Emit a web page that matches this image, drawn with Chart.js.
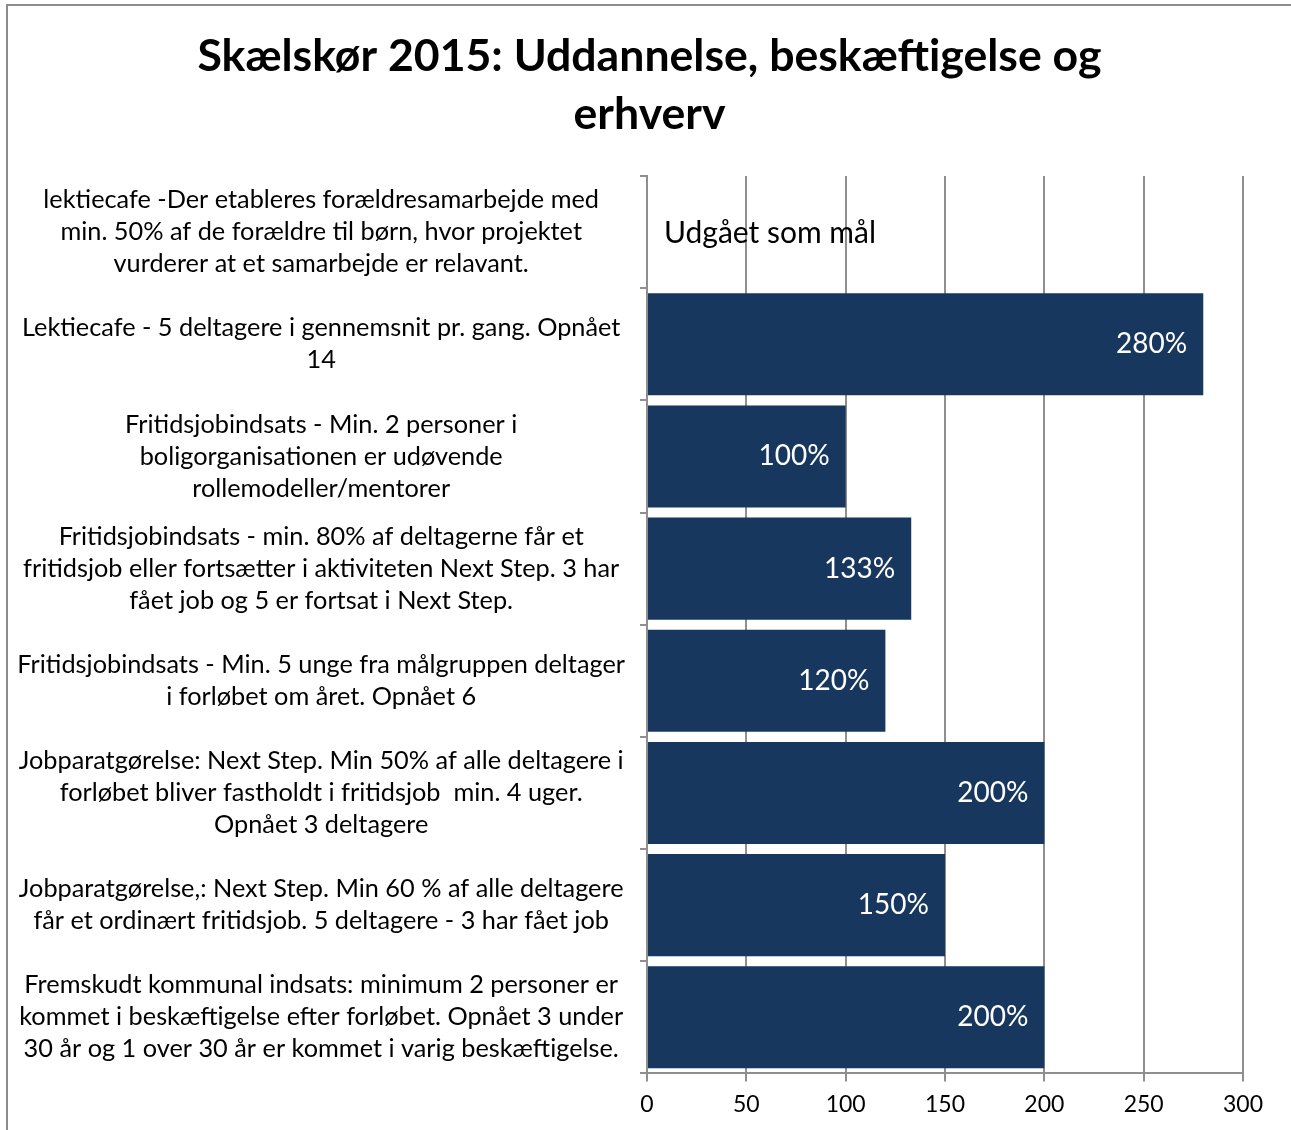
<!DOCTYPE html>
<html>
<head>
<meta charset="utf-8">
<script src="https://cdn.jsdelivr.net/npm/chart.js@4.4.0/dist/chart.umd.min.js"></script>
<style>
body { margin: 0; background: #fff; }
</style>
</head>
<body>
<canvas id="mycanvas" width="1291" height="1130"></canvas>
<script>
var titleLines = ['Skælskør 2015: Uddannelse, beskæftigelse og', 'erhverv'];

var labels = [
	['lektiecafe -Der etableres forældresamarbejde med', 'min. 50% af de forældre til børn, hvor projektet', 'vurderer at et samarbejde er relavant.'],
	['Lektiecafe - 5 deltagere i gennemsnit pr. gang. Opnået', '14'],
	['Fritidsjobindsats - Min. 2 personer i', 'boligorganisationen er udøvende', 'rollemodeller/mentorer'],
	['Fritidsjobindsats - min. 80% af deltagerne får et', 'fritidsjob eller fortsætter i aktiviteten Next Step. 3 har', 'fået job og 5 er fortsat i Next Step.'],
	['Fritidsjobindsats - Min. 5 unge fra målgruppen deltager', 'i forløbet om året. Opnået 6'],
	['Jobparatgørelse: Next Step. Min 50% af alle deltagere i', 'forløbet bliver fastholdt i fritidsjob  min. 4 uger.', 'Opnået 3 deltagere'],
	['Jobparatgørelse,: Next Step. Min 60 % af alle deltagere', 'får et ordinært fritidsjob. 5 deltagere - 3 har fået job'],
	['Fremskudt kommunal indsats: minimum 2 personer er', 'kommet i beskæftigelse efter forløbet. Opnået 3 under', '30 år og 1 over 30 år er kommet i varig beskæftigelse.']
];

// procent opnået, null = udgået
var values = [null, 280, 100, 133, 120, 200, 150, 200];
var droppedText = 'Udgået som mål';

var xMin = 0;
var xMax = 300;
var xStep = 50;

var gridColor = '#8f8f8f';
var barColor = '#17375E';

var frameAndLabels = {
	id: 'frameAndLabels',
	beforeDraw: function(chart) {
		var c = chart.ctx;
		c.save();
		c.strokeStyle = '#8c8c8c';
		c.lineWidth = 2;
		c.strokeRect(7, 5, 1400, 1400);
		c.restore();
	},
	afterDatasetsDraw: function(chart) {
		var c = chart.ctx;
		var meta = chart.getDatasetMeta(0);
		var yScale = chart.scales.y;
		c.save();
		c.textBaseline = 'middle';
		for (var i = 0; i < values.length; i++) {
			var y = yScale.getPixelForValue(i);
			if (values[i] === null) {
				c.font = '30px Lato';
				c.fillStyle = '#000';
				c.textAlign = 'left';
				c.fillText(droppedText, chart.chartArea.left + 17, y + 1);
			} else {
				var bar = meta.data[i];
				c.font = '28px Lato';
				c.fillStyle = '#fff';
				c.textAlign = 'right';
				c.fillText(values[i] + '%', bar.x - 16, y);
			}
		}
		c.restore();
	}
};

var ctx = document.getElementById('mycanvas');

var barGraph = new Chart(ctx, {
	type: 'bar',
	data: {
		labels: labels,
		datasets: [{
			data: values,
			backgroundColor: barColor,
			borderWidth: 0,
			categoryPercentage: 0.91,
			barPercentage: 1
		}]
	},
	options: {
		indexAxis: 'y',
		responsive: false,
		animation: false,
		layout: { padding: { left: 8, top: 28, right: 0, bottom: 3 } },
		plugins: {
			legend: { display: false },
			tooltip: { enabled: false },
			title: {
				display: true,
				text: titleLines,
				color: '#000',
				font: { family: 'Lato', size: 44.6, weight: 'bold', lineHeight: 58 / 44.6 },
				padding: { top: 0, bottom: 32 }
			}
		},
		scales: {
			x: {
				min: xMin,
				max: xMax,
				ticks: { stepSize: xStep, color: '#000', font: { family: 'Lato', size: 23 }, padding: 9 },
				grid: { color: gridColor, lineWidth: 2, tickLength: 8 },
				border: { display: true, color: gridColor, width: 2 },
				afterFit: function(s) { s.paddingRight = 48; }
			},
			y: {
				ticks: { crossAlign: 'center', color: '#000', font: { family: 'Lato', size: 25.3, lineHeight: 32 / 25.3 }, padding: 15, autoSkip: false },
				grid: { drawOnChartArea: false, color: gridColor, lineWidth: 2, tickLength: 7 },
				border: { color: gridColor, width: 2 },
				afterFit: function(s) { s.width = 639; s.paddingTop = 0; s.paddingBottom = 0; }
			}
		}
	},
	plugins: [frameAndLabels]
});
</script>
</body>
</html>
